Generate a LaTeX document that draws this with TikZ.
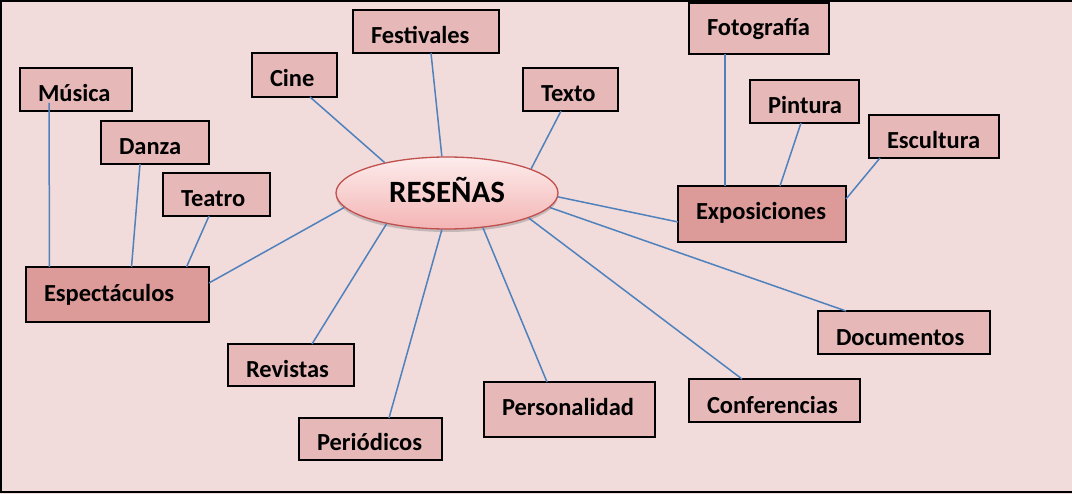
\documentclass[tikz,border=0pt]{standalone}
\usepackage{fontspec}
\setmainfont{Carlito}
\usetikzlibrary{shapes.geometric,shadows}
\hyphenpenalty=10000
\exhyphenpenalty=10000
\definecolor{bgc}{HTML}{F2DCDB}
\definecolor{leafc}{HTML}{E6B9B8}
\definecolor{hubc}{HTML}{DC9A98}
\definecolor{linec}{HTML}{4F81BD}
\definecolor{ellc}{HTML}{C0504D}
\definecolor{elltop}{HTML}{FDECEC}
\definecolor{ellbot}{HTML}{F4B4B4}
\begin{document}
\begin{tikzpicture}[x=1pt,y=-1pt,
  box/.style={draw=black, line width=1.2pt, fill=leafc, anchor=north west,
    inner xsep=18pt, inner ysep=0pt, outer sep=0pt, align=left,
    text height=34pt, text depth=9pt,
    font=\fontsize{24.5pt}{29pt}\selectfont\bfseries},
  hub/.style={box, fill=hubc},
  conn/.style={draw=linec, line width=1.5pt}]
\useasboundingbox (0,0) rectangle (1072,494);
\fill[bgc] (0,0) rectangle (1072,494);
\draw[black, line width=2pt] (0,1) -- (1072,1);
\draw[black, line width=2pt] (1,0) -- (1,492);
\draw[black, line width=2pt] (0,492) -- (1072,492);

% central node
\node[ellipse, draw=ellc, line width=1.3pt, top color=elltop, bottom color=ellbot,
  minimum width=222pt, minimum height=72pt, inner sep=0pt,
  drop shadow={shadow xshift=0pt, shadow yshift=-3pt, fill=black!45, opacity=0.45},
  text height=19.6pt, text depth=0pt,
  font=\fontsize{31pt}{36pt}\selectfont\bfseries] (res) at (447,193) {RESEÑAS};

% boxes
\node[box, text width=76pt] (musica) at (20,68) {Música};
\node[box, text width=72pt] (danza) at (101,121) {Danza};
\node[box, text width=71pt] (teatro) at (163,173) {Teatro};
\node[box, text width=49pt, text depth=10pt] (cine) at (252,53) {Cine};
\node[box, text width=110pt] (festivales) at (353,10) {Festivales};
\node[box, text width=59pt] (texto) at (523,68) {Texto};
\node[box, text width=104pt, text height=33pt, text depth=18pt] (fotografia) at (689,3) {Fotografía};
\node[box, text width=73pt] (pintura) at (750,80) {Pintura};
\node[box, text width=94pt] (escultura) at (869,115) {Escultura};
\node[hub, text width=132pt, text depth=22pt] (expos) at (678,186) {Exposiciones};
\node[hub, text width=147pt, text height=35pt, text depth=20pt] (espect) at (26,267) {Espectáculos};
\node[box, text width=90pt, text depth=8pt] (revistas) at (228,344) {Revistas};
\node[box, text width=107pt, text height=33pt, text depth=9pt] (periodicos) at (299,418) {Periódicos};
\node[box, text width=135pt, text depth=21pt] (personalidad) at (484,382) {Personalidad};
\node[box, text width=135pt, text height=35pt, text depth=8pt] (conferencias) at (689,379) {Conferencias};
\node[box, text width=136pt, text height=35pt, text depth=8pt] (documentos) at (818,311) {Documentos};

% connectors
\draw[conn] ([xshift=-27pt,yshift=8pt]musica.south) -- ([xshift=-68pt]espect.north);
\draw[conn] ([xshift=-15pt]danza.south) -- ([xshift=14pt]espect.north);
\draw[conn] ([xshift=-7.5pt]teatro.south) -- ([xshift=69pt]espect.north);
\draw[conn] ([yshift=11.5pt]espect.east) -- (res.188);
\draw[conn] ([xshift=15.5pt]cine.south) -- (res.154);
\draw[conn] ([xshift=5pt]festivales.south) -- (res.98);
\draw[conn] ([xshift=-9.5pt]texto.south) -- (res.16);
\draw[conn] (res.-2) -- ([yshift=-8pt]expos.west);
\draw[conn] (res.-8) -- ([xshift=-58pt]documentos.north);
\draw[conn] (res.-17) -- ([xshift=-32.5pt]conferencias.north);
\draw[conn] (res.-44) -- ([xshift=-22.5pt]personalidad.north);
\draw[conn] (res.-98) -- ([xshift=18.5pt]periodicos.north);
\draw[conn] (res.207) -- ([xshift=21pt]revistas.north);
\draw[conn] ([xshift=-34pt]fotografia.south) -- ([xshift=-37pt]expos.north);
\draw[conn] ([xshift=-3.5pt]pintura.south) -- ([xshift=18pt]expos.north);
\draw[conn] ([xshift=-54pt]escultura.south) -- ([yshift=15pt]expos.east);
\end{tikzpicture}
\end{document}
